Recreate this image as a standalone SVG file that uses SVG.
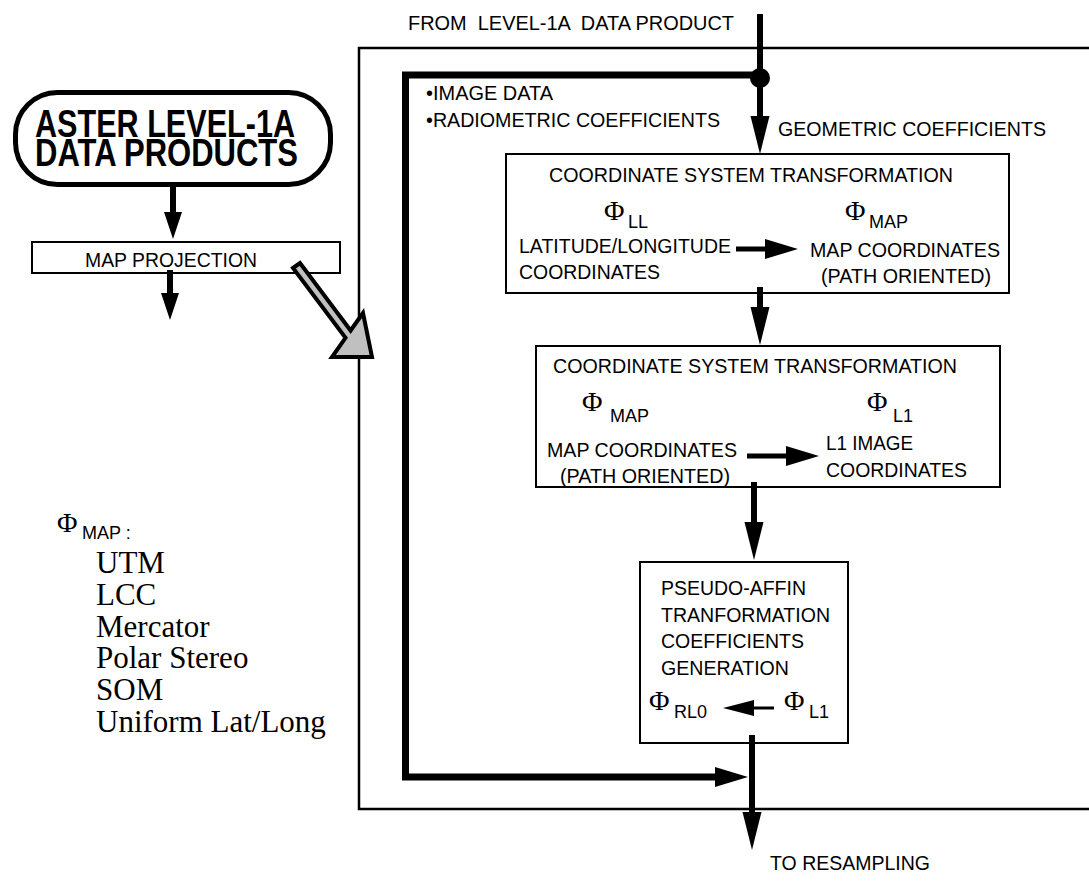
<svg xmlns="http://www.w3.org/2000/svg" width="1089" height="886" viewBox="0 0 1089 886">
<style>
.t{font-family:"Liberation Sans",Arial,sans-serif;font-size:20.5px;fill:#000}
.sub{font-family:"Liberation Sans",Arial,sans-serif;font-size:18px;fill:#000}
.phi{font-family:"Liberation Serif","Times New Roman",serif;font-size:28px;fill:#000}
.list{font-family:"Liberation Serif","Times New Roman",serif;font-size:31px;fill:#000}
.big{font-family:"Liberation Sans",Arial,sans-serif;font-size:38px;font-weight:bold;fill:#000}
.box{fill:#fff;stroke:#000;stroke-width:2}
.thick{fill:none;stroke:#000;stroke-width:7}
.med{fill:none;stroke:#000;stroke-width:6}
.thin{fill:none;stroke:#000;stroke-width:5}
</style>
<defs>
<marker id="hBig" markerUnits="userSpaceOnUse" markerWidth="40" markerHeight="20" refX="0" refY="9.5" orient="auto" overflow="visible">
<path d="M0,0 L38,9.5 L0,19 Z" fill="#000"/>
</marker>
<marker id="hSmall" markerUnits="userSpaceOnUse" markerWidth="28" markerHeight="18" refX="0" refY="9" orient="auto" overflow="visible">
<path d="M0,0 L27,9 L0,18 Z" fill="#000"/>
</marker>
<marker id="hInner" markerUnits="userSpaceOnUse" markerWidth="34" markerHeight="20" refX="0" refY="10" orient="auto" overflow="visible">
<path d="M0,0 L33,10 L0,20 Z" fill="#000"/>
</marker>
<marker id="hTiny" markerUnits="userSpaceOnUse" markerWidth="32" markerHeight="16" refX="0" refY="8" orient="auto" overflow="visible">
<path d="M0,0 L31,8 L0,16 Z" fill="#000"/>
</marker>
</defs>

<g id="frame">
<path d="M1089,48 H359 V809 H1089" fill="none" stroke="#000" stroke-width="2.5"/>
</g>

<g id="aster">
<rect x="15.5" y="92.5" width="315" height="92" rx="42" ry="42" fill="#fff" stroke="#000" stroke-width="5"/>
<text class="big" x="35" y="137" textLength="260" lengthAdjust="spacingAndGlyphs">ASTER LEVEL-1A</text>
<text class="big" x="35" y="166" textLength="263" lengthAdjust="spacingAndGlyphs">DATA PRODUCTS</text>
</g>

<g id="mapproj">
<rect class="box" x="32" y="242" width="308" height="31" stroke-width="1.5"/>
<text class="t" x="85" y="267" textLength="172" lengthAdjust="spacingAndGlyphs">MAP PROJECTION</text>
</g>

<g id="labels">
<text class="t" x="408" y="30" xml:space="preserve" textLength="326" lengthAdjust="spacingAndGlyphs">FROM  LEVEL-1A  DATA PRODUCT</text>
<text class="t" x="426" y="100" textLength="127" lengthAdjust="spacingAndGlyphs">•IMAGE DATA</text>
<text class="t" x="426" y="127" textLength="294" lengthAdjust="spacingAndGlyphs">•RADIOMETRIC COEFFICIENTS</text>
<text class="t" x="778" y="136" textLength="268" lengthAdjust="spacingAndGlyphs">GEOMETRIC COEFFICIENTS</text>
<text class="t" x="770" y="870" textLength="160" lengthAdjust="spacingAndGlyphs">TO RESAMPLING</text>
</g>

<g id="box1">
<rect class="box" x="506" y="154" width="503" height="139"/>
<text class="t" x="549" y="182" textLength="404" lengthAdjust="spacingAndGlyphs">COORDINATE SYSTEM TRANSFORMATION</text>
<text class="phi" x="604" y="220">Φ</text><text class="sub" x="628" y="228">LL</text>
<text class="phi" x="845" y="220">Φ</text><text class="sub" x="869" y="228">MAP</text>
<text class="t" x="519" y="253" textLength="212" lengthAdjust="spacingAndGlyphs">LATITUDE/LONGITUDE</text>
<text class="t" x="519" y="279" textLength="141" lengthAdjust="spacingAndGlyphs">COORDINATES</text>
<text class="t" x="810" y="257" textLength="190" lengthAdjust="spacingAndGlyphs">MAP COORDINATES</text>
<text class="t" x="821" y="283" textLength="170" lengthAdjust="spacingAndGlyphs">(PATH ORIENTED)</text>
</g>

<g id="box2">
<rect class="box" x="536" y="346" width="464" height="141"/>
<text class="t" x="553" y="373" textLength="404" lengthAdjust="spacingAndGlyphs">COORDINATE SYSTEM TRANSFORMATION</text>
<text class="phi" x="582" y="411">Φ</text><text class="sub" x="610" y="422">MAP</text>
<text class="phi" x="867" y="411">Φ</text><text class="sub" x="893" y="422">L1</text>
<text class="t" x="547" y="457" textLength="190" lengthAdjust="spacingAndGlyphs">MAP COORDINATES</text>
<text class="t" x="560" y="483" textLength="170" lengthAdjust="spacingAndGlyphs">(PATH ORIENTED)</text>
<text class="t" x="826" y="450" textLength="87" lengthAdjust="spacingAndGlyphs">L1 IMAGE</text>
<text class="t" x="826" y="477" textLength="141" lengthAdjust="spacingAndGlyphs">COORDINATES</text>
</g>

<g id="box3">
<rect class="box" x="640" y="562" width="208" height="181"/>
<text class="t" x="661" y="595" textLength="145" lengthAdjust="spacingAndGlyphs">PSEUDO-AFFIN</text>
<text class="t" x="661" y="622" textLength="169" lengthAdjust="spacingAndGlyphs">TRANFORMATION</text>
<text class="t" x="661" y="648" textLength="143" lengthAdjust="spacingAndGlyphs">COEFFICIENTS</text>
<text class="t" x="661" y="675" textLength="128" lengthAdjust="spacingAndGlyphs">GENERATION</text>
<text class="phi" x="649" y="710">Φ</text><text class="sub" x="674" y="718">RL0</text>
<text class="phi" x="784" y="710">Φ</text><text class="sub" x="809" y="718">L1</text>
</g>

<g id="legend">
<text class="phi" x="57" y="532">Φ</text><text class="sub" x="82" y="539" xml:space="preserve">MAP :</text>
<text class="list" x="96" y="573">UTM</text>
<text class="list" x="96" y="605">LCC</text>
<text class="list" x="96" y="637">Mercator</text>
<text class="list" x="96" y="668">Polar Stereo</text>
<text class="list" x="96" y="700">SOM</text>
<text class="list" x="96" y="732">Uniform Lat/Long</text>
</g>

<g id="connectors">
<path class="med" d="M760,14 V116" marker-end="url(#hBig)"/>
<path class="thick" d="M760,75 H405.5 V777 H715" marker-end="url(#hInner)"/>
<circle cx="760" cy="78" r="10" fill="#000"/>
<path class="med" d="M760,287 V307" marker-end="url(#hBig)"/>
<path class="med" d="M754,482 V522" marker-end="url(#hBig)"/>
<path class="med" d="M752,735 V812" marker-end="url(#hBig)"/>
<path class="med" d="M173,187 V212" marker-end="url(#hSmall)"/>
<path class="med" d="M170,270 V293" marker-end="url(#hSmall)"/>
<path class="thin" d="M736,249 H765" marker-end="url(#hInner)"/>
<path class="thin" d="M747,456 H786" marker-end="url(#hInner)"/>
<path fill="none" stroke="#000" stroke-width="3" d="M774,708 H754" marker-end="url(#hTiny)"/>
<polygon points="293,268 300,263 350.6,330.5 363,313 372,357 332,357 345.5,337.9" fill="#c0c0c0" stroke="#000" stroke-width="4" stroke-linejoin="miter"/>
</g>
</svg>
